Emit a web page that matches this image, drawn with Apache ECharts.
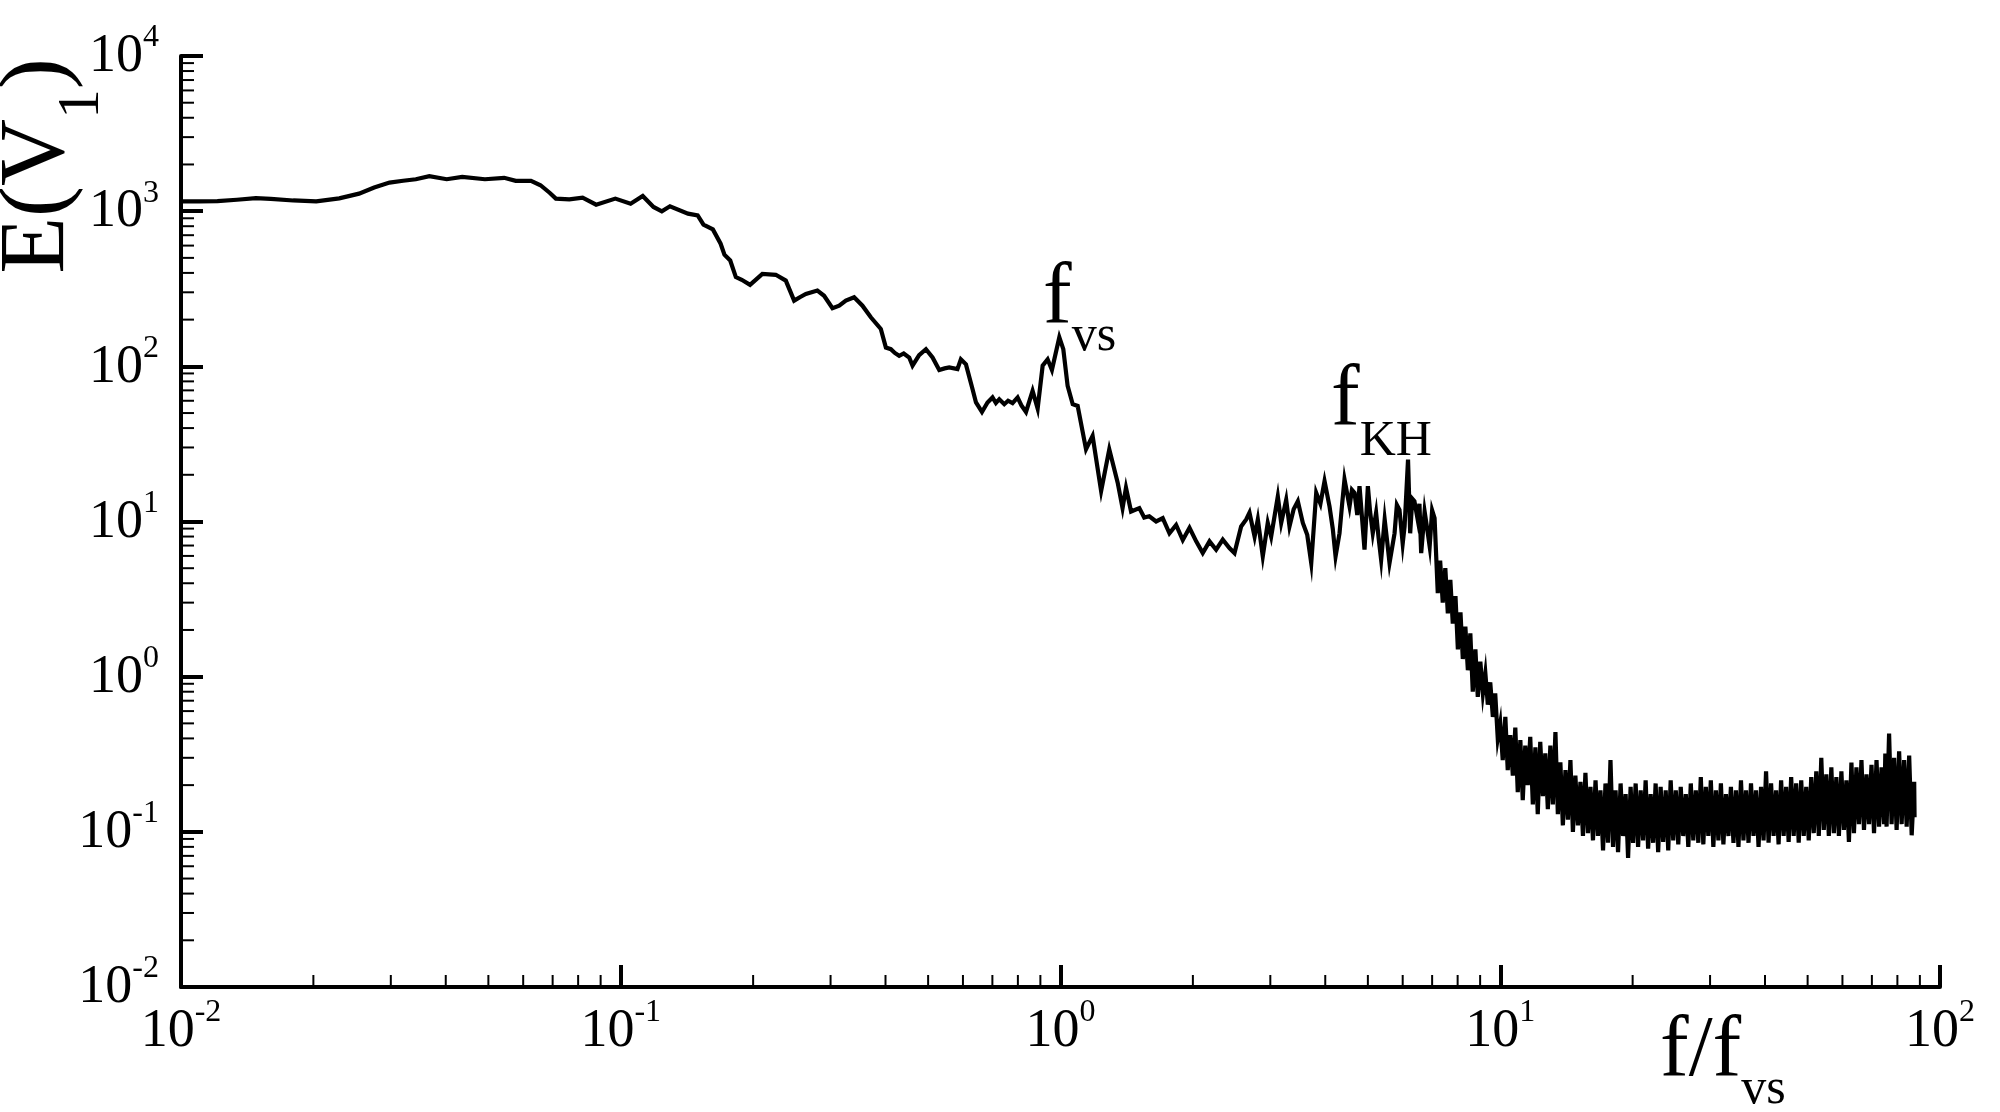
<!DOCTYPE html>
<html>
<head>
<meta charset="utf-8">
<script src="https://cdn.jsdelivr.net/npm/echarts@6/dist/echarts.min.js"></script>
<style>
html,body{margin:0;padding:0;background:#ffffff;}
#chart{width:2000px;height:1112px;}
</style>
</head>
<body>
<div id="chart"></div>
<script>
// ---- data (f/f_vs , E(V1)) ----
const xTickValues = [0.01, 0.1, 1, 10, 100];
const yTickValues = [0.01, 0.1, 1, 10, 100, 1000, 10000];
const minorMultipliers = [2, 3, 4, 5, 6, 7, 8, 9];

const lowFreqBand = [
  [0.0100,1157],[0.0110,1158],[0.0121,1162],[0.0134,1185],[0.0148,1214],[0.0160,1200],
  [0.0180,1172],[0.0203,1157],[0.0229,1210],[0.0254,1297],[0.0275,1420],[0.0298,1528],
  [0.0320,1570],[0.0342,1606],[0.0367,1680],[0.0402,1606],[0.0436,1663],[0.0491,1606],
  [0.0543,1640],[0.0577,1567],[0.0625,1567],[0.0657,1469],[0.0690,1310],[0.0712,1205],
  [0.0764,1190],[0.0819,1222],[0.0879,1101],[0.0972,1205],[0.1053,1117],[0.1122,1254],
  [0.1187,1064],[0.1240,998],[0.1294,1075],[0.1422,964],[0.1496,940],[0.1542,818],
  [0.1620,763],[0.1687,617],[0.1721,524],[0.1774,481],[0.1827,376],[0.1884,361],[0.1968,335]
];

const vortexBand = [
  [0.2099,394],[0.2252,389],[0.2373,357],[0.2479,265],[0.2560,280],[0.2636,293],
  [0.2800,308],[0.2900,285],[0.3030,237],[0.3139,246],[0.3250,265],[0.3394,279],
  [0.3545,246],[0.3704,207],[0.3903,174],[0.4008,132],[0.4114,129],[0.4200,122],
  [0.4297,117],[0.4400,121],[0.4529,114],[0.4608,101],[0.4770,118],[0.4943,129],
  [0.5117,114],[0.5300,94.8],[0.5450,97],[0.5585,98.3],[0.5830,95.9],[0.5935,111],
  [0.6095,103],[0.6310,71.2],[0.6424,58.5],[0.6628,50.8],[0.6824,58.5],[0.7005,63],
  [0.7130,58],[0.7257,61.4],[0.7450,57],[0.7600,60],[0.7780,57.9],[0.7989,63],
  [0.8150,56],[0.8347,50.8],[0.8641,69.5],[0.8872,53.5],[0.9108,101],[0.9348,111],
  [0.9560,94.8],[0.9938,154],[1.0148,129],[1.0380,74.8],[1.0660,57],[1.0940,55.6],
  [1.1430,29.2],[1.1830,35.6],[1.2370,15.7],[1.2910,29.2],[1.3490,17.8],[1.3840,12.2],
  [1.4090,16.5],[1.4470,11.6],[1.5110,12.2],[1.5500,10.6],[1.5920,10.8],[1.6500,10.0],
  [1.7080,10.5],[1.7690,8.4],[1.8320,9.5],[1.8970,7.6],[1.9650,9.1],[2.0350,7.45]
];

const khBand = [
  [2.106,6.26],[2.182,7.45],[2.259,6.58],[2.339,7.64],[2.422,6.75],[2.487,6.26],
  [2.575,9.3],[2.644,10.3],[2.690,11.4],[2.763,8.0],[2.810,10.3],[2.884,5.96],
  [2.960,9.8],[3.013,8.0],[3.070,11.0],[3.120,14.5],[3.176,9.8],[3.260,13.8],[3.317,9.3],
  [3.390,12.0],[3.465,13.5],[3.557,9.8],[3.640,8.2],[3.717,5.4],[3.815,15.3],[3.900,13.0],
  [3.985,18.2],[4.090,12.5],[4.160,9.0],[4.222,5.96],[4.310,8.4],[4.370,13.0],[4.424,18.7],
  [4.542,12.5],[4.600,16.0],[4.663,15.3],[4.730,11.0],[4.786,16.9],[4.850,10.5],
  [4.913,6.58],[5.000,16.9],[5.060,11.5],[5.130,8.4],[5.220,11.4],[5.290,7.8],[5.360,5.67],
  [5.460,10.3],[5.530,7.5],[5.600,5.4],[5.750,8.4],[5.820,12.8],[5.900,11.9],[6.000,7.2],
  [6.060,9.3],[6.170,25.1],[6.240,8.4],[6.310,14.0],[6.380,13.5],[6.490,10.3],[6.550,13.0],
  [6.610,6.26],[6.730,11.6],[6.820,9.0],[6.910,6.92],[7.000,11.8],[7.090,10.5],[7.210,3.45]
];

const rollOffBand = [
  [7.30,5.6],[7.40,3.0],[7.50,5.0],[7.60,2.56],[7.70,4.2],[7.80,2.2],[7.91,3.3],
  [8.01,1.5],[8.12,2.6],[8.22,1.3],[8.33,2.1],[8.44,1.1],[8.55,1.9],[8.66,0.80],
  [8.78,1.5],[8.89,0.74],[9.01,1.25],[9.13,0.78],[9.25,1.05],[9.37,0.66],[9.49,0.92],
  [9.62,0.55],[9.74,0.78],[9.87,0.40],
  [10.00,0.50],[10.13,0.29],[10.27,0.55],[10.40,0.25],[10.54,0.42],[10.68,0.23],
  [10.82,0.47],[10.96,0.18],[11.11,0.39],[11.25,0.16],[11.40,0.36],[11.55,0.20],
  [11.70,0.41],[11.86,0.15],[12.02,0.35],[12.17,0.13],[12.33,0.38],[12.50,0.17],
  [12.66,0.32],[12.83,0.14],[13.00,0.36],[13.17,0.15],[13.35,0.44],[13.52,0.13],
  [13.70,0.28],[13.88,0.11],[14.07,0.25],[14.25,0.12],[14.44,0.29],[14.63,0.10],
  [14.82,0.23],[15.02,0.11],[15.22,0.21],[15.42,0.094],[15.62,0.24],[15.83,0.098],
  [16.04,0.195],[16.25,0.088],[16.47,0.215],[16.68,0.094],[16.90,0.185],[17.13,0.076],
  [17.35,0.205],[17.58,0.085],[17.81,0.29],[18.05,0.08],[18.29,0.185],[18.53,0.074],
  [18.78,0.205],[19.02,0.094],[19.28,0.175],[19.53,0.068],[19.79,0.195]
];

const tailBand = [
  [20.05,0.085],[20.32,0.205],[20.58,0.08],[20.86,0.185],[21.13,0.088],[21.41,0.215],
  [21.69,0.078],[21.98,0.175],[22.27,0.085],[22.56,0.205],[22.86,0.074],[23.16,0.195],
  [23.47,0.086],[23.78,0.185],[24.10,0.076],[24.41,0.215],[24.74,0.088],[25.07,0.185],
  [25.40,0.083],[25.73,0.195],[26.07,0.094],[26.42,0.175],[26.77,0.08],[27.12,0.205],
  [27.48,0.088],[27.84,0.185],[28.21,0.085],[28.58,0.225],[28.96,0.083],[29.34,0.195],
  [29.73,0.094],[30.12,0.215],[30.52,0.08],[30.93,0.185],[31.34,0.088],[31.75,0.205],
  [32.17,0.083],[32.60,0.175],[33.03,0.094],[33.46,0.195],[33.91,0.085],[34.35,0.185],
  [34.81,0.08],[35.27,0.215],[35.73,0.088],[36.21,0.185],[36.69,0.085],[37.17,0.205],
  [37.66,0.094],[38.16,0.185],[38.67,0.08],[39.18,0.195],[39.70,0.088],[40.22,0.245],
  [40.75,0.085],[41.29,0.205],[41.84,0.094],[42.39,0.185],[42.95,0.083],[43.52,0.215],
  [44.10,0.094],[44.68,0.195],[45.27,0.086],[45.87,0.225],[46.48,0.094],[47.09,0.205],
  [47.72,0.085],[48.35,0.215],[48.99,0.094],[49.64,0.195],[50.29,0.088],[50.96,0.225],
  [51.63,0.098],[52.32,0.245],[53.01,0.094],[53.71,0.30],[54.42,0.103],[55.14,0.235],
  [55.87,0.094],[56.61,0.26],[57.36,0.098],[58.12,0.225],[58.89,0.094],[59.67,0.245],
  [60.46,0.103],[61.26,0.215],[62.07,0.086],[62.89,0.28],[63.72,0.098],[64.56,0.26],
  [65.42,0.112],[66.28,0.29],[67.16,0.103],[68.05,0.235],[68.95,0.112],[69.86,0.27],
  [70.79,0.098],[71.72,0.29],[72.67,0.108],[73.64,0.26],[74.61,0.112],[75.10,0.32],
  [75.60,0.108],[76.60,0.43],[77.61,0.112],[78.64,0.30],[79.68,0.103],[80.73,0.33],
  [81.80,0.112],[82.88,0.29],[83.98,0.108],[85.09,0.31],[86.22,0.095],[87.36,0.21],[87.53,0.124]
];

const spectrum = [].concat(lowFreqBand, vortexBand, khBand, rollOffBand, tailBand);

// ---- styling ----
const FONT = '"Liberation Serif","Times New Roman",serif';
const INK = '#000000';

function powLabel(v) {
  const e = Math.round(Math.log10(v));
  return '{b|10}{s|' + e + '}';
}
const tickRich = {
  b: { fontFamily: FONT, fontSize: 54, lineHeight: 62, verticalAlign: 'bottom', color: INK },
  s: { fontFamily: FONT, fontSize: 32, lineHeight: 32, verticalAlign: 'top', color: INK }
};

const chart = echarts.init(document.getElementById('chart'), null, { renderer: 'canvas' });

const option = {
  animation: false,
  backgroundColor: '#ffffff',
  grid: { left: 181, right: 60, top: 56, bottom: 125, containLabel: false },
  xAxis: {
    type: 'log', logBase: 10, min: xTickValues[0], max: xTickValues[xTickValues.length - 1],
    interval: 1, splitNumber: 4,
    axisLine: { show: true, onZero: false, lineStyle: { color: INK, width: 4 } },
    axisTick: { show: true, inside: true, length: 22, lineStyle: { color: INK, width: 4 } },
    minorTick: { show: false },
    splitLine: { show: false },
    axisLabel: { show: true, margin: 10, formatter: powLabel, rich: tickRich, color: INK }
  },
  yAxis: {
    type: 'log', logBase: 10, min: yTickValues[0], max: yTickValues[yTickValues.length - 1],
    interval: 1, splitNumber: 6,
    axisLine: { show: true, onZero: false, lineStyle: { color: INK, width: 4 } },
    axisTick: { show: true, inside: true, length: 22, lineStyle: { color: INK, width: 4 } },
    minorTick: { show: false },
    splitLine: { show: false },
    axisLabel: { show: true, margin: 22, padding: [0, 0, 6, 0], formatter: powLabel, rich: tickRich, color: INK }
  },
  series: [{
    type: 'line',
    data: spectrum,
    showSymbol: false,
    symbol: 'none',
    clip: true,
    lineStyle: { color: INK, width: 4.2, join: 'miter' },
    emphasis: { disabled: true }
  }]
};
chart.setOption(option);

// ---- minor ticks (through the axis scales) and text annotations ----
const elements = [];
const yBase = chart.convertToPixel({ yAxisIndex: 0 }, yTickValues[0]);
const xBase = chart.convertToPixel({ xAxisIndex: 0 }, xTickValues[0]);
for (let i = 0; i < xTickValues.length - 1; i++) {
  minorMultipliers.forEach(function (m) {
    const px = chart.convertToPixel({ xAxisIndex: 0 }, xTickValues[i] * m);
    elements.push({ type: 'line', silent: true, z: 5,
      shape: { x1: px, y1: yBase, x2: px, y2: yBase - 12 },
      style: { stroke: INK, lineWidth: 2 } });
  });
}
for (let i = 0; i < yTickValues.length - 1; i++) {
  minorMultipliers.forEach(function (m) {
    const py = chart.convertToPixel({ yAxisIndex: 0 }, yTickValues[i] * m);
    elements.push({ type: 'line', silent: true, z: 5,
      shape: { x1: xBase, y1: py, x2: xBase + 13, y2: py },
      style: { stroke: INK, lineWidth: 2 } });
  });
}

function subText(main, sub, subLine) {
  return {
    text: '{m|' + main + '}{u|' + sub + '}',
    rich: {
      m: { fontFamily: FONT, fontSize: 86, lineHeight: 86, verticalAlign: 'top', color: INK },
      u: { fontFamily: FONT, fontSize: 50, lineHeight: subLine, verticalAlign: 'bottom', color: INK }
    },
    align: 'left', verticalAlign: 'top', fill: INK
  };
}

// y-axis title E(V1), rotated
elements.push({
  type: 'text', x: 52, y: 166, rotation: Math.PI / 2, silent: true,
  style: {
    text: '{m|E(V}{u|1}{m|)}',
    rich: {
      m: { fontFamily: FONT, fontSize: 93, lineHeight: 93, verticalAlign: 'top', color: INK },
      u: { fontFamily: FONT, fontSize: 59, lineHeight: 119, verticalAlign: 'bottom', color: INK }
    },
    align: 'center', verticalAlign: 'middle', fill: INK
  }
});
// x-axis title f/f_vs
elements.push({ type: 'text', x: 1660, y: 1009, silent: true, style: subText('f/f', 'vs', 106) });
// peak annotations
elements.push({ type: 'text', x: 1043, y: 256, silent: true, style: subText('f', 'vs', 106) });
elements.push({ type: 'text', x: 1331, y: 358, silent: true, style: subText('f', 'KH', 109) });

chart.setOption({ graphic: { elements: elements } });
</script>
</body>
</html>
